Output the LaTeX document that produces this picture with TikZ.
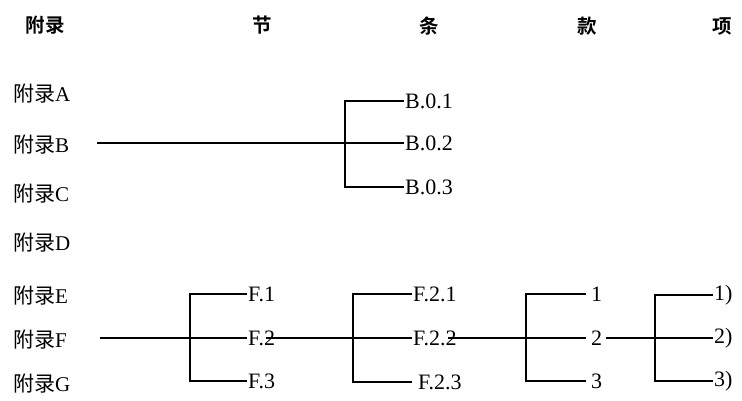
\documentclass[tikz,border=0pt]{standalone}
\usepackage{fontspec}
\setmainfont{Liberation Serif}
\newfontfamily\cjk{Noto Sans CJK SC}
\newfontfamily\cjkb{Noto Sans CJK SC}[BoldFont={* Bold}]
\newcommand{\apx}[1]{{\cjk\fontsize{21}{23}\selectfont 附录}{\fontsize{21}{23}\selectfont #1}}
\newcommand{\lbx}[1]{{\fontsize{22}{24}\selectfont #1}}
\newcommand{\hdr}[1]{{\cjkb\bfseries\fontsize{19.5}{21}\selectfont #1}}
\tikzset{
  lab/.style={anchor=west, inner sep=1pt},
  hd/.style={anchor=center, inner sep=0pt},
  conn/.style={line width=1.4pt, black}
}
\begin{document}
\begin{tikzpicture}[x=1pt,y=-1pt]
\useasboundingbox (0,0) rectangle (742,401);
% headers
\node[hd] (h1) at (45,25) {\hdr{附录}};
\node[hd] (h2) at (262,25) {\hdr{节}};
\node[hd] (h3) at (429,26) {\hdr{条}};
\node[hd] (h4) at (587,26) {\hdr{款}};
\node[hd] (h5) at (722,26) {\hdr{项}};
% appendices
\node[lab] (aA) at (12,94) {\apx{A}};
\node[lab] (aB) at (12,145) {\apx{B}};
\node[lab] (aC) at (12,194) {\apx{C}};
\node[lab] (aD) at (12,243) {\apx{D}};
\node[lab] (aE) at (12,296) {\apx{E}};
\node[lab] (aF) at (12,340) {\apx{F}};
\node[lab] (aG) at (12,384) {\apx{G}};
% B branch
\node[lab] (B1) at (404,101) {\lbx{B.0.1}};
\node[lab] (B2) at (404,143) {\lbx{B.0.2}};
\node[lab] (B3) at (404,187) {\lbx{B.0.3}};
\coordinate (bB) at (345,143);
\coordinate (sB) at (97,143);
\draw[conn] (sB) -- (bB) -- (B2.west);
\draw[conn] (B1.west) -| (bB) |- (B3.west);
% F branch level 1
\node[lab] (F1) at (247,294) {\lbx{F.1}};
\node[lab] (F2) at (247,338) {\lbx{F.2}};
\node[lab] (F3) at (247,381) {\lbx{F.3}};
\coordinate (sF) at (100,338);
\coordinate (bF) at (190,338);
\draw[conn] (sF) -- (bF) -- (F2.west);
\draw[conn] (F1.west) -| (bF) |- (F3.west);
% level 2
\node[lab] (F21) at (412,294) {\lbx{F.2.1}};
\node[lab] (F22) at (412,338) {\lbx{F.2.2}};
\node[lab] (F23) at (417,382) {\lbx{F.2.3}};
\coordinate (bF2) at (353,338);
\draw[conn] ([xshift=-10pt]F2.east) -- (bF2) -- (F22.west);
\draw[conn] (F21.west) -| (bF2) |- ([xshift=-5pt]F23.west);
% level 3
\node[lab] (K1) at (590,294) {\lbx{1}};
\node[lab] (K2) at (590,338) {\lbx{2}};
\node[lab] (K3) at (590,381) {\lbx{3}};
\coordinate (bK) at (526,338);
\draw[conn] ([xshift=-10pt]F22.east) -- (bK) -- ([xshift=-4pt]K2.west);
\draw[conn] ([xshift=-4pt]K1.west) -| (bK) |- ([xshift=-4pt]K3.west);
% level 4
\node[lab] (X1) at (713,295) {\lbx{1)}};
\node[lab] (X2) at (713,338) {\lbx{2)}};
\node[lab] (X3) at (713,381) {\lbx{3)}};
\coordinate (bX) at (655,338);
\draw[conn] ([xshift=3pt]K2.east) -- (bX) -- (X2.west);
\draw[conn] (X1.west) -| (bX) |- (X3.west);
\end{tikzpicture}
\end{document}
